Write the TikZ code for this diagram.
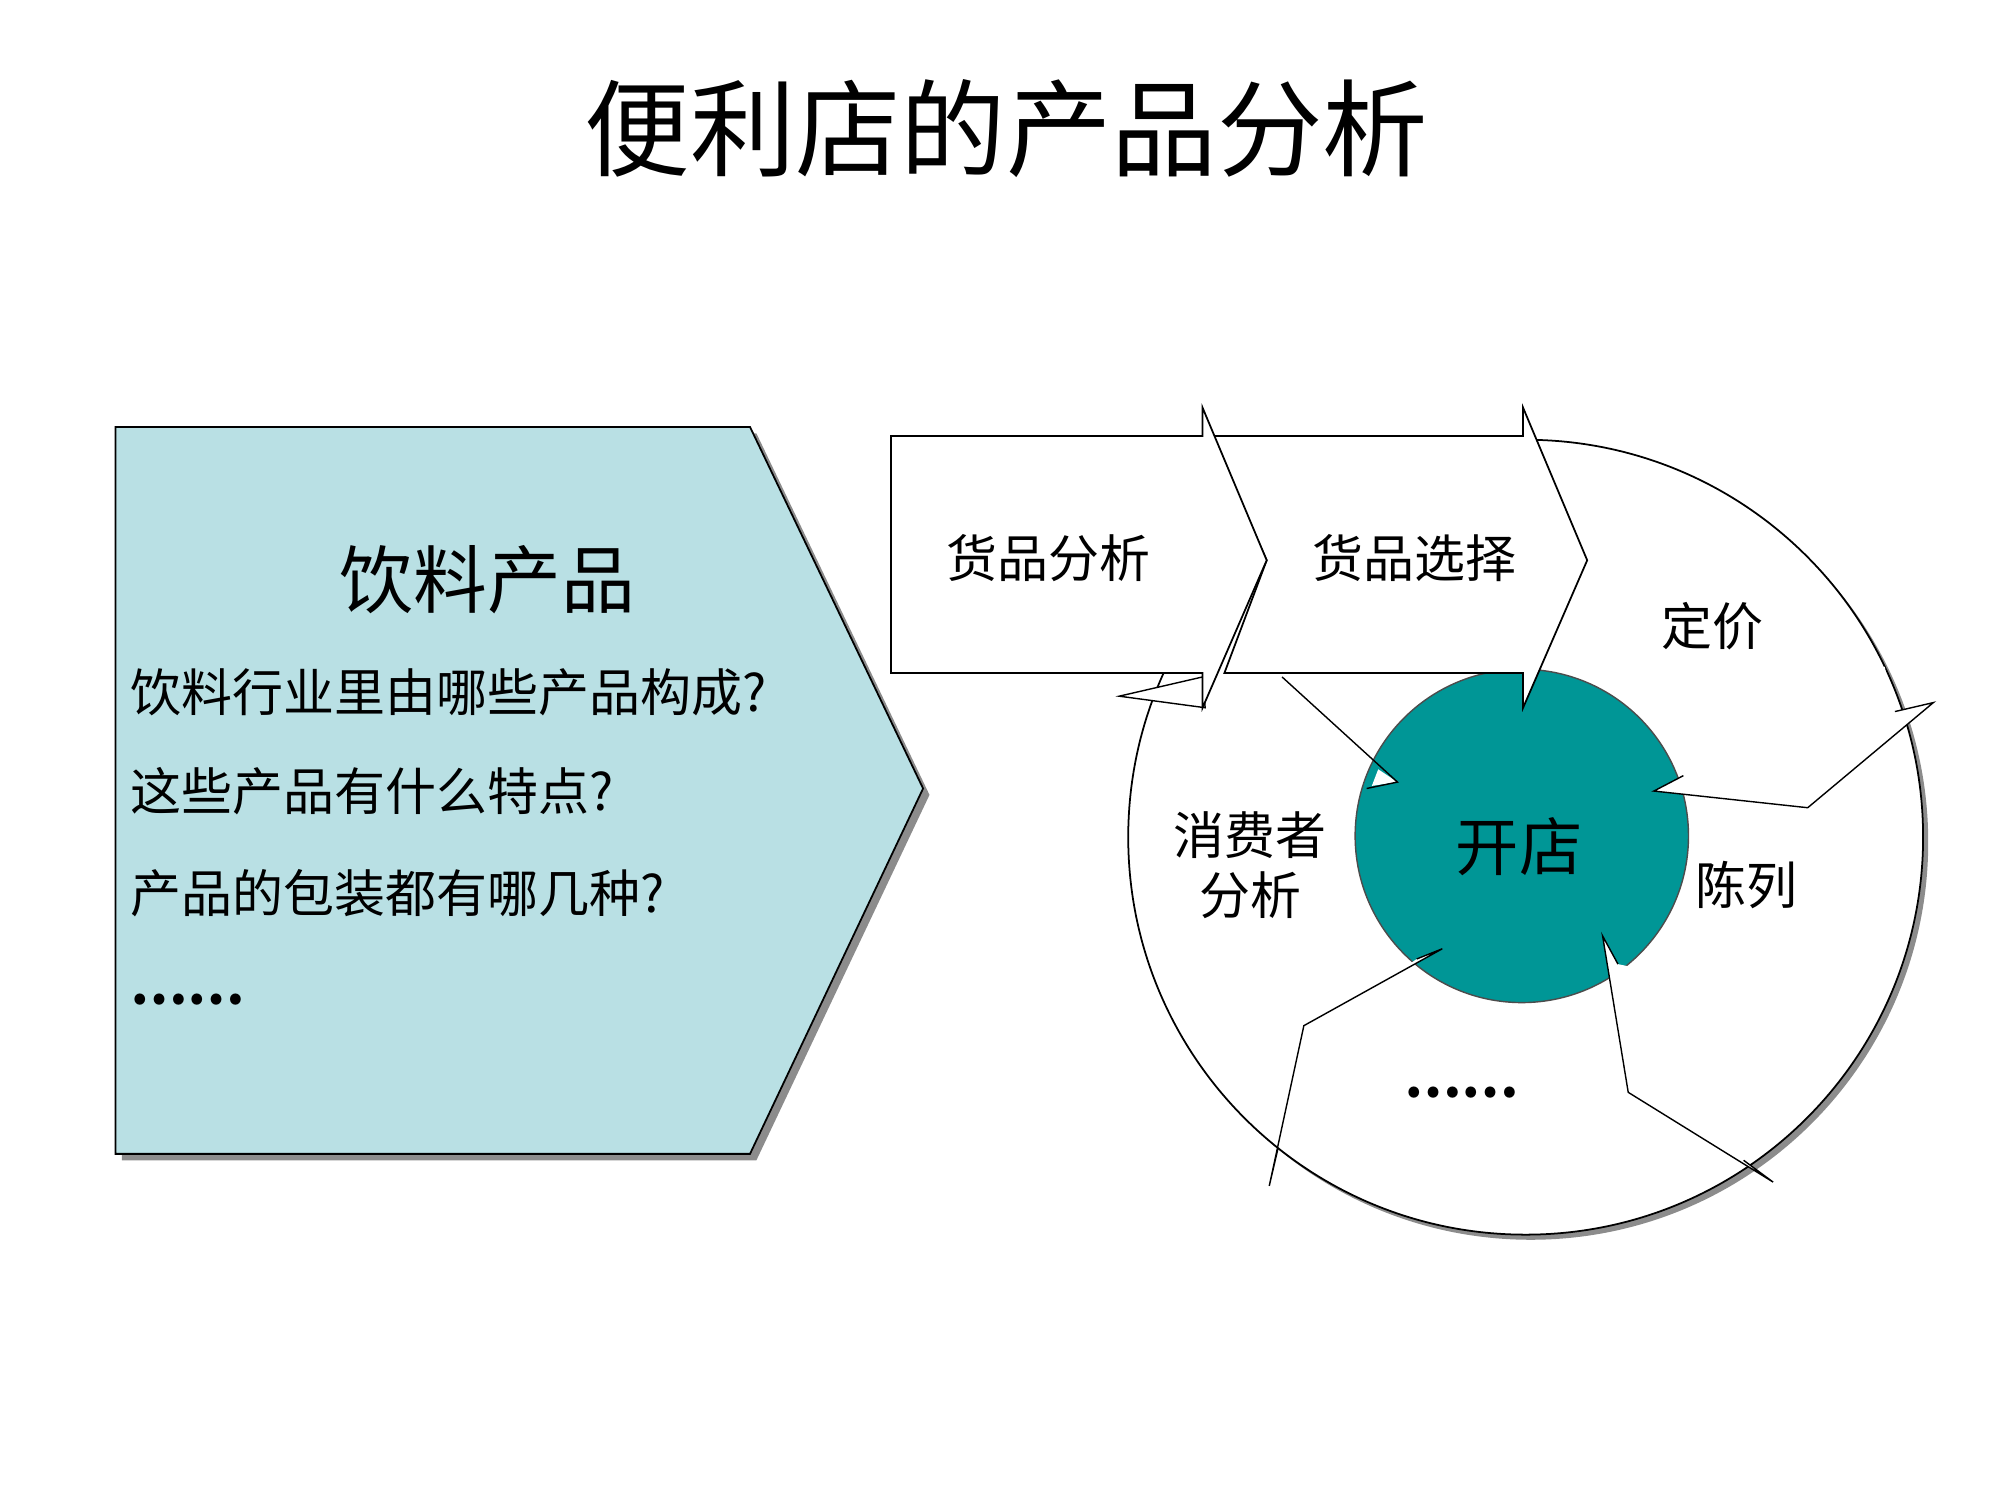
\documentclass[tikz,border=0pt]{standalone}
\usepackage{fontspec}
\setmainfont{Noto Sans CJK SC}
\newfontfamily\cjk{Noto Sans CJK SC}
\usetikzlibrary{positioning}
\definecolor{boxcyan}{RGB}{185,224,228}
\definecolor{shopteal}{RGB}{0,150,150}
\tikzset{
  lbl/.style={font=\fontsize{14.5}{17}\selectfont},
  shadowed/.style={draw=black,line width=0.5pt}
}
\begin{document}
\begin{tikzpicture}[x=0.012821cm,y=-0.012821cm]
    \useasboundingbox (0,0) rectangle (1560,1170);
    % title
    \node (title) at (785,100) {\fontsize{30}{34}\selectfont 便利店的产品分析};
    % left box
    \fill[black!45] (95,338) -- (590,338) -- (725,620) -- (590,905) -- (95,905) -- cycle;
    \filldraw[fill=boxcyan,shadowed] (90,333) -- (585,333) -- (720,615) -- (585,900) -- (90,900) -- cycle;
    \node (drink) at (380,452) {\fontsize{21}{24}\selectfont 饮料产品};
    \node[lbl,anchor=west] (q1) at (92,540) {饮料行业里由哪些产品构成?};
    \node[lbl,anchor=west] (q2) at (92,617) {这些产品有什么特点?};
    \node[lbl,anchor=west] (q3) at (92,697) {产品的包装都有哪几种?};
    \node[lbl,anchor=west] (q4) at (92,780) {\textbf{……}};
    % cycle
    \fill[black!45] (1194,657) circle (310);
    \filldraw[fill=white,shadowed] (1190,653) circle (310);
    \filldraw[fill=shopteal,draw=black!70] (1187,652) circle (130);
    % chevrons
    \fill[white] (1313,605) -- (1290,617) -- (1410,630) -- (1508,548) -- (1478,555) -- (1470,520) -- (1300,560) -- cycle;
    \draw (1313,605) -- (1290,617) -- (1410,630) -- (1508,548) -- (1478,555);
    \fill[white] (1262,752) -- (1250,730) -- (1270,852) -- (1383,922) -- (1360,905) -- (1300,760) -- cycle;
    \draw (1262,752) -- (1250,730) -- (1270,852) -- (1383,922) -- (1360,905);
    \fill[white] (1105,748) -- (1125,740) -- (1017,800) -- (990,925) -- (997,895) -- (1060,780) -- cycle;
    \draw (1105,748) -- (1125,740) -- (1017,800) -- (990,925) -- (997,895);
    \fill[white] (1075,600) -- (1090,610) -- (1070,613) -- cycle;
    \draw (1000,528) -- (1090,610) -- (1066,615);
    \filldraw[fill=white,draw=black] (873,543) -- (938,528) -- (940,552) -- cycle;
    % straight arrows
    \filldraw[fill=white,shadowed] (945,340) -- (1188,340) -- (1188,318) -- (1238,437) -- (1188,552) -- (1188,525) -- (955,525) -- (988,437) -- cycle;
    \filldraw[fill=white,shadowed] (695,340) -- (938,340) -- (938,318) -- (988,437) -- (938,552) -- (938,525) -- (695,525) -- cycle;
    \node[lbl] (goods) at (818,435) {货品分析};
    \node[lbl] (choose) at (1103,435) {货品选择};
    \node[lbl] (price) at (1336,488) {定价};
    \node[lbl] (show) at (1362,690) {陈列};
    \node[lbl] (more) at (1140,852) {\textbf{……}};
    \node[lbl,align=center] (buyer) at (975,675) {消费者\\分析};
    \node (shop) at (1185,660) {\fontsize{18}{20}\selectfont 开店};
\end{tikzpicture}
\end{document}
